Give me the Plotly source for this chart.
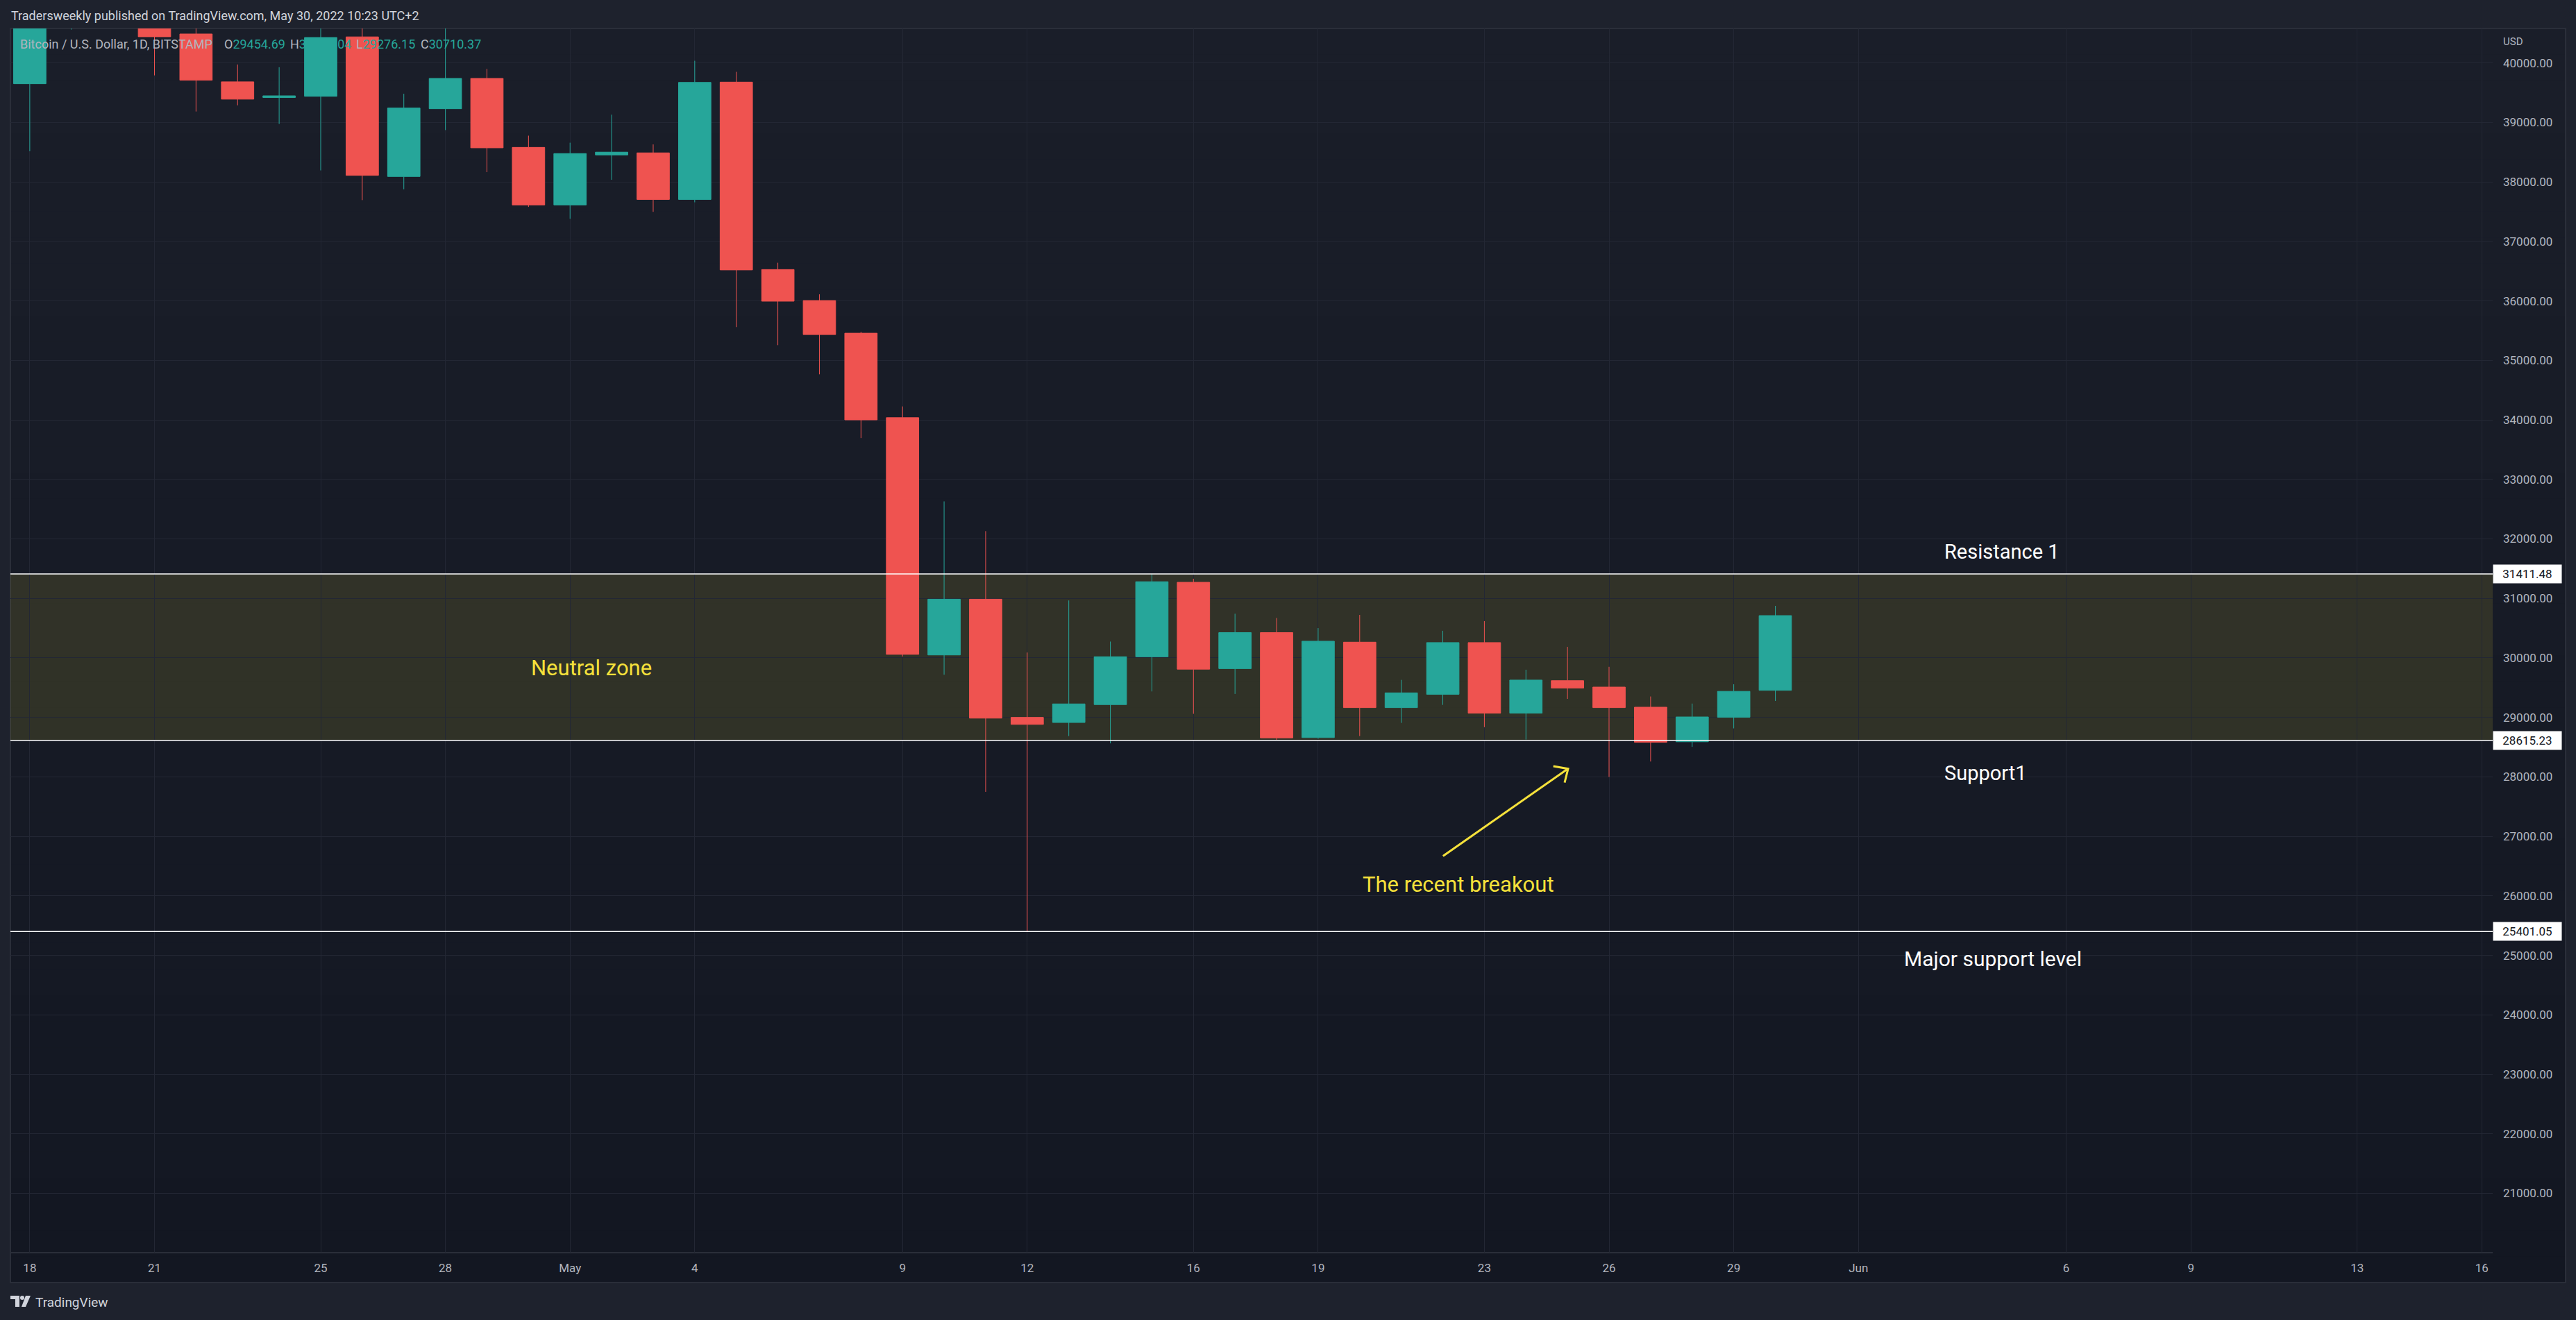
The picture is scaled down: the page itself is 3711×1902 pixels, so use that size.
import plotly.graph_objects as go
import pandas as pd

# ---------------- data ----------------
dates = ["2022-04-18", "2022-04-19", "2022-04-20", "2022-04-21", "2022-04-22", "2022-04-23",
         "2022-04-24", "2022-04-25", "2022-04-26", "2022-04-27", "2022-04-28", "2022-04-29",
         "2022-04-30", "2022-05-01", "2022-05-02", "2022-05-03", "2022-05-04", "2022-05-05",
         "2022-05-06", "2022-05-07", "2022-05-08", "2022-05-09", "2022-05-10", "2022-05-11",
         "2022-05-12", "2022-05-13", "2022-05-14", "2022-05-15", "2022-05-16", "2022-05-17",
         "2022-05-18", "2022-05-19", "2022-05-20", "2022-05-21", "2022-05-22", "2022-05-23",
         "2022-05-24", "2022-05-25", "2022-05-26", "2022-05-27", "2022-05-28", "2022-05-29",
         "2022-05-30"]
opens = [39650, 40800, 41500, 41370, 40486, 39682, 39418, 39438, 40437, 38091, 39230, 39739,
         38580, 37612, 38453, 38488, 37705, 39677, 36527, 36006, 35457, 34037, 30049, 30986,
         29000, 28914, 29215, 30019, 31270, 29820, 30425, 28660, 30264, 29164, 29388, 30257,
         29070, 29617, 29509, 29171, 28590, 29002, 29454.69]
highs = [41100, 41700, 42200, 42970, 40800, 39973, 39927, 40616, 40800, 39482, 40650, 39900,
         38777, 38659, 39130, 38630, 40036, 39850, 36641, 36110, 35481, 34226, 32630, 32130,
         30090, 30965, 30274, 31410, 31330, 30742, 30670, 30500, 30722, 29630, 30455, 30618,
         29801, 30185, 29850, 29351, 29232, 29556, 30874]
lows = [38515, 40560, 40900, 39790, 39183, 39287, 38974, 38193, 37694, 37876, 38871, 38164,
        37580, 37380, 38036, 37497, 37657, 35560, 35256, 34766, 33695, 30022, 29717, 27748,
        25402, 28686, 28563, 29436, 29060, 29394, 28623, 28640, 28686, 28907, 29210, 28835,
        28627, 29311, 27998, 28258, 28505, 28815, 29276.15]
closes = [40800, 41500, 41370, 40440, 39709, 39391, 39447, 40427, 38110, 39242, 39739, 38573,
          37612, 38476, 38500, 37705, 39672, 36521, 35995, 35434, 34000, 30059, 30986, 28987,
          28882, 29226, 30019, 31280, 29810, 30425, 28655, 30280, 29164, 29412, 30257, 29070,
          29627, 29492, 29164, 28581, 29007, 29437, 30710.37]

resistance_1 = 31411.48
support_1 = 28615.23
major_support = 25401.05

tick_dates = ["2022-04-18", "2022-04-21", "2022-04-25", "2022-04-28", "2022-05-01", "2022-05-04",
              "2022-05-09", "2022-05-12", "2022-05-16", "2022-05-19", "2022-05-23", "2022-05-26",
              "2022-05-29", "2022-06-01", "2022-06-06", "2022-06-09", "2022-06-13", "2022-06-16"]
tick_labels = ["18", "21", "25", "28", "May", "4", "9", "12", "16", "19", "23", "26", "29",
               "Jun", "6", "9", "13", "16"]
price_ticks = list(range(20000, 41000, 1000))

# ---------------- styling ----------------
W, H = 3711, 1902
PL, PR, PT, PB = 15, 3591, 41, 1805     # plot pane in pixels
FRAME = "#1e222d"
GRID = "#232734"
BORDER = "#2a2e39"
TEAL = "#26a69a"
RED = "#ef5350"
TXT = "#b2b5be"
YEL = "#f5e13b"
FONT = "Roboto, Open Sans, sans-serif"


def px(x):
    return (x - PL) / (PR - PL)


def py(y):
    return (PB - y) / (PB - PT)


fig = go.Figure()
fig.add_trace(go.Candlestick(
    x=dates, open=opens, high=highs, low=lows, close=closes,
    increasing=dict(line=dict(color=TEAL, width=1), fillcolor=TEAL),
    decreasing=dict(line=dict(color=RED, width=1), fillcolor=RED),
    whiskerwidth=0, hoverinfo="none", showlegend=False,
))

shapes = []
# pane background gradient
N = 48
top_c = (26, 30, 41)
bot_c = (19, 23, 34)
y_top, y_bot = 41, 1848
for i in range(N):
    t = i / (N - 1)
    c = tuple(round(top_c[k] + (bot_c[k] - top_c[k]) * t) for k in range(3))
    ya = y_top + (y_bot - y_top) * i / N
    yb = y_top + (y_bot - y_top) * (i + 1) / N + 1
    shapes.append(dict(type="rect", xref="paper", yref="paper", x0=px(15), x1=px(3696),
                       y0=py(ya), y1=py(min(yb, y_bot)), fillcolor="rgb(%d,%d,%d)" % c,
                       line=dict(width=0), layer="below"))
# pane border and time-axis separator
shapes.append(dict(type="rect", xref="paper", yref="paper", x0=px(15), x1=px(3696),
                   y0=py(41), y1=py(1848), line=dict(color=BORDER, width=2), layer="below"))
shapes.append(dict(type="line", xref="paper", yref="paper", x0=px(15), x1=px(3591),
                   y0=py(1805), y1=py(1805), line=dict(color=BORDER, width=2), layer="below"))
# neutral zone
shapes.append(dict(type="rect", xref="paper", yref="y", x0=0, x1=1, y0=support_1, y1=resistance_1,
                   fillcolor="rgba(255,235,59,0.115)", line=dict(width=0), layer="between"))
# level lines
for lv in (resistance_1, support_1, major_support):
    shapes.append(dict(type="line", xref="paper", yref="y", x0=0, x1=1, y0=lv, y1=lv,
                       line=dict(color="#ffffff", width=1.5), layer="above"))
# arrow
shapes.append(dict(type="line", xref="paper", yref="paper", x0=px(2078.8), y0=py(1233.5),
                   x1=px(2258.7), y1=py(1107.8), line=dict(color=YEL, width=3), layer="above"))
shapes.append(dict(type="path", xref="paper", yref="paper",
                   path="M %f %f L %f %f L %f %f" % (px(2237.7), py(1104), px(2259), py(1107.8),
                                                      px(2254), py(1127.7)),
                   line=dict(color=YEL, width=3), fillcolor="rgba(0,0,0,0)", layer="above"))
# TradingView logo icon (approximation)
shapes.append(dict(type="path", xref="paper", yref="paper",
                   path="M %f %f L %f %f L %f %f L %f %f L %f %f L %f %f Z" % (
                       px(15), py(1867), px(28), py(1867), px(28), py(1883), px(22), py(1883),
                       px(22), py(1872), px(15), py(1872)),
                   fillcolor="#d1d4dc", line=dict(width=0), layer="above"))
shapes.append(dict(type="circle", xref="paper", yref="paper", x0=px(29), x1=px(35),
                   y0=py(1867), y1=py(1873), fillcolor="#d1d4dc", line=dict(width=0), layer="above"))
shapes.append(dict(type="path", xref="paper", yref="paper",
                   path="M %f %f L %f %f L %f %f L %f %f Z" % (
                       px(37), py(1867), px(44), py(1867), px(37), py(1883), px(31), py(1883)),
                   fillcolor="#d1d4dc", line=dict(width=0), layer="above"))

ann = []


def text(x, y, s, size=17, color=TXT, xanchor="left", **kw):
    ann.append(dict(x=px(x), y=py(y), xref="paper", yref="paper", text=s, showarrow=False,
                    xanchor=xanchor, yanchor="middle", font=dict(family=FONT, size=size, color=color),
                    **kw))


text(14, 22.5, "Tradersweekly published on TradingView.com, May 30, 2022 10:23 UTC+2", 18, "#d1d4dc")
text(26.7, 63.5, "Bitcoin / U.S. Dollar, 1D, BITSTAMP", 18)
text(321, 63.5, "O<span style='color:%s'>%.2f</span>" % (TEAL, opens[-1]), 18)
text(416, 63.5, "H<span style='color:%s'>%.2f</span>" % (TEAL, highs[-1] + 0.04), 18)
text(511, 63.5, "L<span style='color:%s'>%.2f</span>" % (TEAL, lows[-1]), 18)
text(604, 63.5, "C<span style='color:%s'>%.2f</span>" % (TEAL, closes[-1]), 18)
text(3604, 60, "USD", 15)
text(852, 963, "Neutral zone", 31, YEL, "center")
text(2884, 795, "Resistance 1", 29, "#ffffff", "center")
text(2860, 1114, "Support1", 29, "#ffffff", "center")
text(2871, 1381, "Major support level", 30, "#ffffff", "center")
text(2101, 1275, "The recent breakout", 31, YEL, "center")
text(49, 1876, "TradingView", 19, "#d1d4dc")

for lv in (resistance_1, support_1, major_support):
    ann.append(dict(x=1.0, y=lv, xref="paper", yref="y", text="%.2f" % lv, showarrow=False,
                    xanchor="left", yanchor="middle", bgcolor="#ffffff", width=92, height=20,
                    borderpad=3, align="center", font=dict(family=FONT, size=17, color="#131722")))

x0 = (pd.Timestamp("2022-04-18") - pd.Timedelta(days=0.466)).strftime("%Y-%m-%d %H:%M:%S")
x1 = (pd.Timestamp("2022-06-16") + pd.Timedelta(days=0.262)).strftime("%Y-%m-%d %H:%M:%S")

fig.update_layout(
    width=W, height=H,
    margin=dict(l=PL, r=W - PR, t=PT, b=H - PB, autoexpand=False),
    paper_bgcolor=FRAME, plot_bgcolor="rgba(0,0,0,0)",
    boxgap=0.22, boxgroupgap=0,
    showlegend=False,
    shapes=shapes, annotations=ann,
    font=dict(family=FONT, color=TXT),
    xaxis=dict(type="date", range=[x0, x1], tickvals=tick_dates, ticktext=tick_labels,
               showgrid=True, gridcolor=GRID, gridwidth=1, zeroline=False, showline=False,
               ticks="", tickfont=dict(family=FONT, size=17, color=TXT),
               ticklabelstandoff=10, rangeslider=dict(visible=False), fixedrange=True),
    yaxis=dict(side="right", range=[20002.6, 40579], tickvals=price_ticks, tickformat=".2f",
               showgrid=True, gridcolor=GRID, gridwidth=1, zeroline=False, showline=False,
               ticks="", tickfont=dict(family=FONT, size=17, color=TXT),
               ticklabelstandoff=14, fixedrange=True),
)

fig.write_html("out.html", config={"displayModeBar": False},
               post_script="document.body.style.margin='0px';document.body.style.overflow='hidden';")
